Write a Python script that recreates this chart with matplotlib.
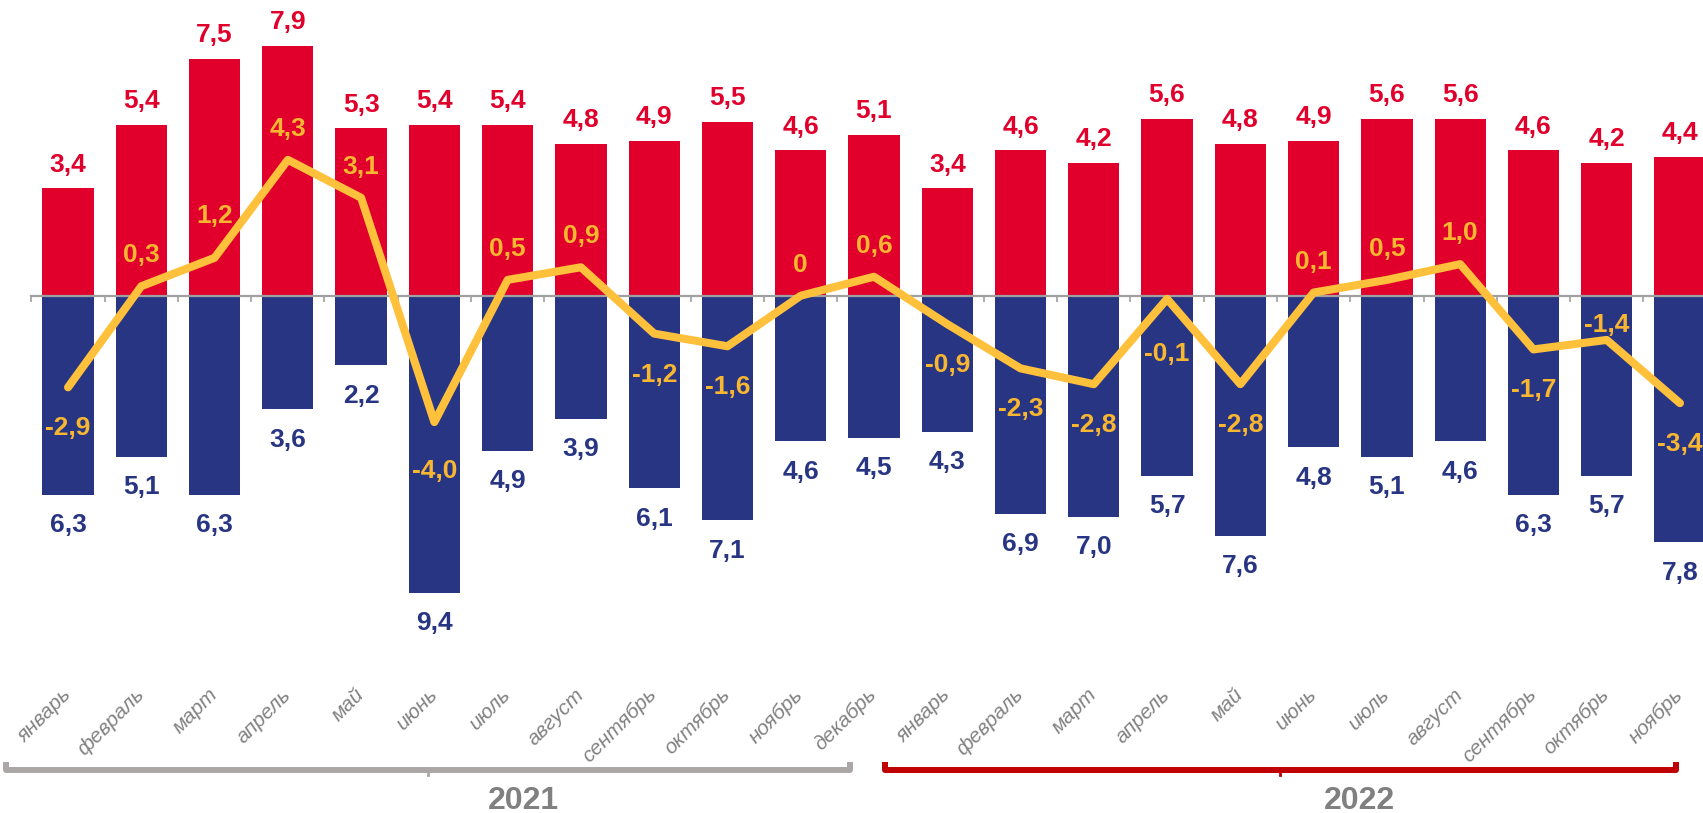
import numpy as np
import matplotlib
matplotlib.use('Agg')
from matplotlib import pyplot as plt
from matplotlib import transforms

plt.rcParams['font.family'] = ['Liberation Sans', 'DejaVu Sans']

months = ['январь', 'февраль', 'март', 'апрель', 'май', 'июнь', 'июль', 'август',
          'сентябрь', 'октябрь', 'ноябрь', 'декабрь',
          'январь', 'февраль', 'март', 'апрель', 'май', 'июнь', 'июль', 'август',
          'сентябрь', 'октябрь', 'ноябрь']
years = ['2021', '2022']

inflow = [3.4, 5.4, 7.5, 7.9, 5.3, 5.4, 5.4, 4.8, 4.9, 5.5, 4.6, 5.1,
          3.4, 4.6, 4.2, 5.6, 4.8, 4.9, 5.6, 5.6, 4.6, 4.2, 4.4]
outflow = [6.3, 5.1, 6.3, 3.6, 2.2, 9.4, 4.9, 3.9, 6.1, 7.1, 4.6, 4.5,
           4.3, 6.9, 7.0, 5.7, 7.6, 4.8, 5.1, 4.6, 6.3, 5.7, 7.8]
balance = [-2.9, 0.3, 1.2, 4.3, 3.1, -4.0, 0.5, 0.9, -1.2, -1.6, 0, 0.6,
           -0.9, -2.3, -2.8, -0.1, -2.8, 0.1, 0.5, 1.0, -1.7, -1.4, -3.4]

RED = '#E0002B'
BLUE = '#283583'
YELLOW = '#FFC13B'
YELLOW_TXT = '#F9B731'
GRAY = '#A0A0A0'

W, H = 1703, 813
fig = plt.figure(figsize=(W / 100, H / 100), dpi=100)
# axes runs a bit past the right edge, like the cropped original
ax = fig.add_axes([31.4 / W, 1 - 640 / H, 1685.2 / W, 640 / H])
ax.set_xlim(-0.5, 22.5)
ax.set_ylim(-(640 - 295.7) / 31.6, 295.7 / 31.6)

x = np.arange(len(months))
ax.bar(x, inflow, width=0.7, color=RED, zorder=1)
ax.bar(x, -np.array(outflow), width=0.7, color=BLUE, zorder=1)
ax.plot(x, balance, color=YELLOW, lw=5.8, solid_joinstyle='round',
        solid_capstyle='round', zorder=4)

# zero line with small ticks between categories
for s in ['top', 'right', 'left']:
    ax.spines[s].set_visible(False)
ax.spines['bottom'].set_position(('data', 0))
ax.spines['bottom'].set_color(GRAY)
ax.spines['bottom'].set_linewidth(1.6)
ax.spines['bottom'].set_zorder(2.5)
ax.set_yticks([])
ax.set_xticks([])
ax.set_xticks(np.arange(-0.5, 23, 1), minor=True)
ax.tick_params(axis='x', which='minor', direction='out', length=4, width=1.2, color=GRAY)
ax.set_xticklabels([], minor=True)

fs = 19
for i in x:
    ax.annotate(f'{inflow[i]:.1f}'.replace('.', ','), (i, inflow[i]), xytext=(0, 12),
                textcoords='offset points', ha='center', va='baseline',
                fontsize=fs, fontweight='bold', color=RED, zorder=5)
    ax.annotate(f'{outflow[i]:.1f}'.replace('.', ','), (i, -outflow[i]), xytext=(0, -27),
                textcoords='offset points', ha='center', va='baseline',
                fontsize=fs, fontweight='bold', color=BLUE, zorder=5)

# offsets (px) of the balance labels, a few are moved by hand in the original
overrides = {2: 35, 5: -56, 15: -62, 21: 8}
for i in x:
    v = balance[i]
    txt = '0' if v == 0 else f'{v:.1f}'.replace('.', ',')
    off = overrides.get(i, 24 if v >= 0 else -48)
    ax.annotate(txt, (i, v), xytext=(0, off * 0.72), textcoords='offset points',
                ha='center', va='baseline', fontsize=fs, fontweight='bold',
                color=YELLOW_TXT, zorder=6)

trans = transforms.blended_transform_factory(ax.transData, fig.transFigure)
for i in x:
    ax.text(i + 0.09, 1 - 685 / H, months[i], transform=trans, rotation=45,
            ha='right', va='top', fontsize=15, style='italic', color='#828282')

# year brackets
def bracket(x0, x1, xm, color):
    y = 1 - 770 / H
    up = 5 / H
    ax.plot([x0, x0, x1, x1], [y + up, y, y, y + up], color=color, lw=4.3,
            transform=trans, clip_on=False, solid_joinstyle='round')
    ax.plot([xm, xm], [y, y - up], color=color, lw=2, transform=trans, clip_on=False)

bracket(-0.846, 10.67, 4.91, '#ABA7A7')
bracket(11.15, 21.95, 16.54, '#C00000')
for xpos, yr in zip([6.22, 17.62], years):
    ax.text(xpos, 1 - 809 / H, yr, transform=trans, ha='center', va='baseline',
            fontsize=23, fontweight='bold', color='#808080')

plt.savefig('out.png', dpi=100)
